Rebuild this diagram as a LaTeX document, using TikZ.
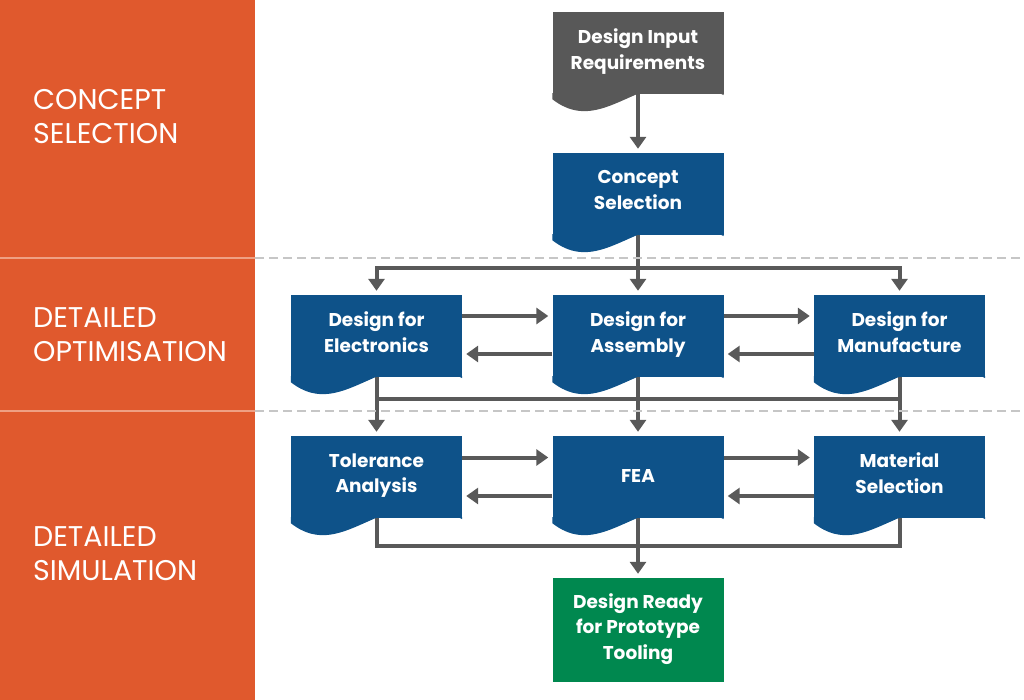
\documentclass[tikz,border=0pt]{standalone}
\usepackage{fontspec}
\setmainfont{Poppins}
\usetikzlibrary{arrows.meta,calc}
\definecolor{PanelOrange}{HTML}{E0592D}
\definecolor{PanelLine}{HTML}{EFA083}
\definecolor{BoxBlue}{HTML}{0E5289}
\definecolor{BoxGray}{HTML}{585858}
\definecolor{BoxGreen}{HTML}{00884F}
\definecolor{LineGray}{HTML}{595959}
\definecolor{DashGray}{HTML}{C6C6C6}
\pgfdeclarelayer{background}
\pgfsetlayers{background,main}

\begin{document}
\begin{tikzpicture}[x=1pt,y=-1pt,
                    docND/.style={rectangle,
                                  fill=#1,
                                  text=white,
                                  minimum width=171pt,
                                  minimum height=82pt,
                                  inner sep=0pt,
                                  align=center,
                                  execute at begin node=\strut,
                                  execute at end node=\strut,
                                  font=\bfseries\fontsize{18.5}{25.5}\selectfont},
                    endND/.style={docND=#1,
                                  minimum height=104pt},
                    phaseLB/.style={anchor=west,
                                    align=left,
                                    inner sep=0pt,
                                    text=white,
                                    font=\fontsize{28.5}{34}\selectfont},
                    conn/.style={draw=LineGray,
                                 line width=4pt,
                                 -{Triangle[length=12pt,width=16pt]},
                                 shorten >=4pt},
                    busLN/.style={draw=LineGray,
                                  line width=4pt}]
    \useasboundingbox (0,0) rectangle (1024,700);
    % phase panel
    \fill[PanelOrange] (0,0) rectangle (255,700);
    \draw[PanelLine, line width=1.5pt] (0,258) -- (255,258);
    \draw[PanelLine, line width=1.5pt] (0,411) -- (255,411);
    \draw[DashGray, line width=1.2pt, dash pattern=on 9pt off 5pt] (255,258) -- (1024,258);
    \draw[DashGray, line width=1.2pt, dash pattern=on 9pt off 5pt] (255,411) -- (1024,411);
    \node[phaseLB](P1) at (33,116.5) {CONCEPT\\SELECTION};
    \node[phaseLB](P2) at (33,335)   {DETAILED\\OPTIMISATION};
    \node[phaseLB](P3) at (33,553.5) {DETAILED\\SIMULATION};

    % boxes
    \node[docND=BoxGray](input)   at (638,53)    {Design Input\\Requirements};
    \node[docND=BoxBlue](concept) at (638,194)   {Concept\\Selection};
    \node[docND=BoxBlue](elec)    at (376.5,336) {Design for\\Electronics};
    \node[docND=BoxBlue](assem)   at (638,336)   {Design for\\Assembly};
    \node[docND=BoxBlue](manu)    at (899.5,336) {Design for\\Manufacture};
    \node[docND=BoxBlue](tol)     at (376.5,477) {Tolerance\\Analysis};
    \node[docND=BoxBlue](fea)     at (638,477)   {FEA};
    \node[docND=BoxBlue](mat)     at (899.5,477) {Material\\Selection};
    \node[endND=BoxGreen](ready)  at (638,630)   {Design Ready\\for Prototype\\Tooling};

    % wavy bottoms
    \foreach \n/\c in {input/BoxGray, concept/BoxBlue, elec/BoxBlue, assem/BoxBlue,
                       manu/BoxBlue, tol/BoxBlue, fea/BoxBlue, mat/BoxBlue}
        \fill[\c] ([yshift=1pt]\n.south west) -- ($(\n.south west)+(0,5)$)
            .. controls ($(\n.south west)+(55,48)$) and ($(\n.south west)+(95,-42)$)
            .. ($(\n.south east)+(0,1)$) -- ([yshift=1pt]\n.south east) -- cycle;

    % connectors
    \coordinate (split) at (638,268);
    \coordinate (join)  at (638,399);
    \coordinate (merge) at (638,546);
    \begin{pgfonlayer}{background}
        \draw[conn] (input)   -- (concept);
        \draw[conn] (concept) -- (assem);
        \draw[conn] (split) -| (elec);
        \draw[conn] (split) -| (manu);
        \draw[conn] (elec)  -- (tol);
        \draw[conn] (assem) -- (fea);
        \draw[conn] (manu)  -- (mat);
        \draw[busLN] (elec |- join) -- (manu |- join);
        \draw[busLN] (tol) |- (merge) -| (mat);
        \draw[conn] (fea) -- (ready);
        % row arrows
        \draw[conn] ([yshift=20pt]elec.east)   -- ([yshift=20pt]assem.west);
        \draw[conn] ([yshift=-18pt]assem.west) -- ([yshift=-18pt]elec.east);
        \draw[conn] ([yshift=20pt]assem.east)  -- ([yshift=20pt]manu.west);
        \draw[conn] ([yshift=-18pt]manu.west)  -- ([yshift=-18pt]assem.east);
        \draw[conn] ([yshift=19.5pt]tol.east)  -- ([yshift=19.5pt]fea.west);
        \draw[conn] ([yshift=-19pt]fea.west)   -- ([yshift=-19pt]tol.east);
        \draw[conn] ([yshift=19.5pt]fea.east)  -- ([yshift=19.5pt]mat.west);
        \draw[conn] ([yshift=-19pt]mat.west)   -- ([yshift=-19pt]fea.east);
    \end{pgfonlayer}
\end{tikzpicture}
\end{document}
